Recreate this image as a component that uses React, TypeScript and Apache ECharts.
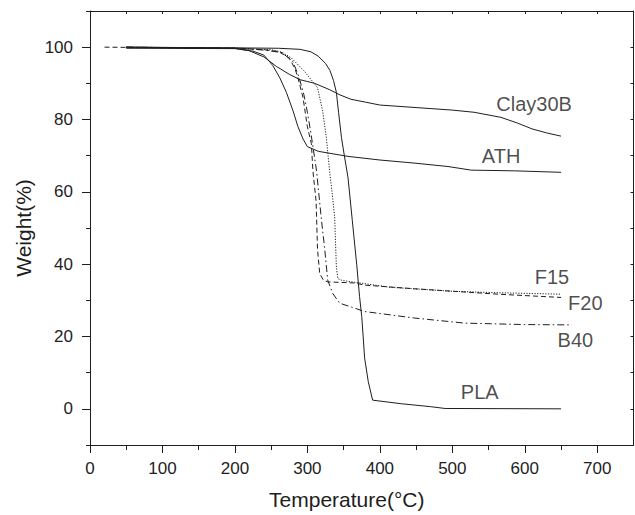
import React, { useEffect, useRef } from "react";
import * as echarts from "echarts";

// Thermogravimetric curves: [temperature °C, weight %]
const PLA: [number, number][] = [
  [50, 100], [200, 99.8], [260, 99.7], [290, 99.4], [305, 98.7], [315, 97.5], [325, 95.5],
  [331, 93.6], [336, 90.8], [340, 87.5], [343, 82], [347, 75], [351, 70], [356, 64],
  [362, 52], [368, 40], [372, 31], [375, 25.5], [379, 14], [384, 7.5], [390, 2.4],
  [430, 1.4], [470, 0.6], [490, 0.1], [650, 0],
];
const CLAY30B: [number, number][] = [
  [50, 100], [200, 99.7], [220, 99], [240, 97.3], [257, 94.7], [275, 92.5], [290, 91],
  [310, 90], [330, 88.3], [345, 86.8], [360, 85.6], [380, 84.8], [400, 84], [450, 83.3],
  [500, 82.6], [530, 82], [567, 80.6], [590, 79], [610, 77.4], [630, 76.3], [650, 75.4],
];
const ATH: [number, number][] = [
  [50, 99.7], [200, 99.6], [225, 98.9], [240, 97.8], [252, 95], [262, 91.5], [271, 87.5],
  [280, 82.5], [287, 78], [294, 74.6], [300, 72.5], [315, 71.2], [356, 69.8], [400, 68.8],
  [450, 67.9], [494, 67], [526, 66], [586, 65.8], [650, 65.4],
];
const F15: [number, number][] = [
  [50, 100], [200, 99.8], [250, 99.3], [265, 98.6], [278, 97], [296, 93.3], [314, 88.8],
  [321, 82.4], [326, 75.2], [331, 65], [334, 60], [337.6, 53], [340, 39.2], [342, 36],
  [348, 35.5], [365, 35], [415, 33.6], [500, 32.5], [563, 32.1], [650, 31.7],
];
const F20: [number, number][] = [
  [20, 100], [200, 99.7], [240, 99.3], [260, 98.8], [275, 97], [283, 94], [287, 91.5],
  [294, 86], [300, 78], [305.5, 73.3], [307.5, 66], [312, 57.4], [314, 44], [317, 37.4],
  [322, 35.6], [328, 35.1], [365, 34.8], [379, 34.2], [448, 33.2], [563, 31.7], [650, 30.8],
];
const B40: [number, number][] = [
  [50, 100], [200, 99.7], [240, 99.2], [265, 98.5], [280, 96], [288, 92], [295, 87],
  [300, 82], [305, 76], [308, 72], [312.5, 66], [319, 53], [324, 44], [328, 35.6],
  [335, 31.9], [344.5, 29.2], [360, 28.2], [379, 26.9], [448, 25.1], [517, 23.7],
  [600, 23.3], [665, 23.2],
];

// Curve annotations (left edge of text, in data coordinates)
const LABEL_NAMES = ["Clay30B", "ATH", "F15", "F20", "B40", "PLA"];
const LABEL_T = [560, 540, 613, 659, 644.5, 511];
const LABEL_W = [84.2, 69.8, 36.5, 29.2, 18.9, 4.6];

// Axis ticks
const X_MAJOR = [0, 100, 200, 300, 400, 500, 600, 700];
const X_MINOR = [50, 150, 250, 350, 450, 550, 650];
const X_TOP = [50, 100, 150, 200, 250, 300, 350, 400, 450, 500, 550, 600, 650, 700];
const Y_MAJOR = [0, 20, 40, 60, 80, 100];
const Y_MINOR = [-10, 10, 30, 50, 70, 90, 110];
const Y_RIGHT = [0, 10, 20, 30, 40, 50, 60, 70, 80, 90, 100];

const INK = "#1e1e1e";
const FONT = "Liberation Sans, Arial, sans-serif";

export default function App() {
  const ref = useRef<HTMLDivElement>(null);
  useEffect(() => {
    if (!ref.current) return;
    const chart = echarts.init(ref.current, undefined, { renderer: "svg" });
    const lineStyleBase = { color: INK, width: 1 };
    const axisBase = {
      type: "value" as const,
      splitLine: { show: false },
      axisPointer: { show: false },
    };
    const xRange = { min: 0, max: 750 };
    const yRange = { min: -10, max: 110 };
    const mkLine = (name: string, data: [number, number][], type: any) => ({
      name,
      type: "line",
      data,
      showSymbol: false,
      symbol: "none",
      smooth: false,
      lineStyle: { ...lineStyleBase, type },
      z: 3,
    });
    chart.setOption({
      animation: false,
      backgroundColor: "#ffffff",
      textStyle: { fontFamily: FONT },
      grid: { left: 90, top: 11, width: 543.5, height: 438.3, containLabel: false },
      xAxis: [
        {
          ...axisBase,
          ...xRange,
          position: "bottom",
          axisLine: { show: true, onZero: false, lineStyle: { color: INK, width: 1 } },
          axisTick: { show: true, inside: false, length: 8, customValues: X_MAJOR, lineStyle: { color: INK } },
          axisLabel: { show: true, customValues: X_MAJOR, margin: 15, fontSize: 17, color: INK, fontFamily: FONT },
          name: "Temperature(°C)",
          nameLocation: "middle",
          nameGap: 44,
          nameTextStyle: { fontSize: 21, color: INK, fontFamily: FONT, padding: [0, 30, 0, 0] },
        },
        {
          ...axisBase,
          ...xRange,
          position: "bottom",
          axisLine: { show: false, onZero: false },
          axisTick: { show: true, inside: false, length: 5, customValues: X_MINOR, lineStyle: { color: INK } },
          axisLabel: { show: false },
        },
        {
          ...axisBase,
          ...xRange,
          position: "top",
          axisLine: { show: true, onZero: false, lineStyle: { color: INK, width: 1 } },
          axisTick: { show: true, inside: true, length: 3, customValues: X_TOP, lineStyle: { color: INK } },
          axisLabel: { show: false },
        },
      ],
      yAxis: [
        {
          ...axisBase,
          ...yRange,
          position: "left",
          axisLine: { show: true, onZero: false, lineStyle: { color: INK, width: 1 } },
          axisTick: { show: true, inside: false, length: 8, customValues: Y_MAJOR, lineStyle: { color: INK } },
          axisLabel: { show: true, customValues: Y_MAJOR, margin: 17, fontSize: 17, color: INK, fontFamily: FONT },
          name: "Weight(%)",
          nameLocation: "middle",
          nameGap: 55,
          nameTextStyle: { fontSize: 21, color: INK, fontFamily: FONT },
        },
        {
          ...axisBase,
          ...yRange,
          position: "left",
          axisLine: { show: false, onZero: false },
          axisTick: { show: true, inside: false, length: 4, customValues: Y_MINOR, lineStyle: { color: INK } },
          axisLabel: { show: false },
        },
        {
          ...axisBase,
          ...yRange,
          position: "right",
          axisLine: { show: true, onZero: false, lineStyle: { color: INK, width: 1 } },
          axisTick: { show: true, inside: true, length: 3, customValues: Y_RIGHT, lineStyle: { color: INK } },
          axisLabel: { show: false },
        },
      ],
      series: [
        mkLine("PLA", PLA, "solid"),
        mkLine("Clay30B", CLAY30B, "solid"),
        mkLine("ATH", ATH, "solid"),
        mkLine("F15", F15, [1.2, 1.5]),
        mkLine("F20", F20, [5, 3]),
        mkLine("B40", B40, [7, 3, 1.5, 3]),
        {
          name: "labels",
          type: "scatter",
          symbol: "circle",
          symbolSize: 1,
          itemStyle: { color: "rgba(0,0,0,0)" },
          data: LABEL_NAMES.map((n, i) => ({ name: n, value: [LABEL_T[i], LABEL_W[i]] })),
          label: {
            show: true,
            position: "right",
            distance: 0,
            formatter: "{b}",
            fontSize: 20,
            color: INK,
            fontFamily: FONT,
          },
          silent: true,
          z: 5,
        },
      ],
    });
    return () => chart.dispose();
  }, []);
  return (
    <div
      ref={ref}
      style={{ position: "absolute", left: 0, top: 0, width: 635, height: 515, background: "#fff" }}
    />
  );
}
